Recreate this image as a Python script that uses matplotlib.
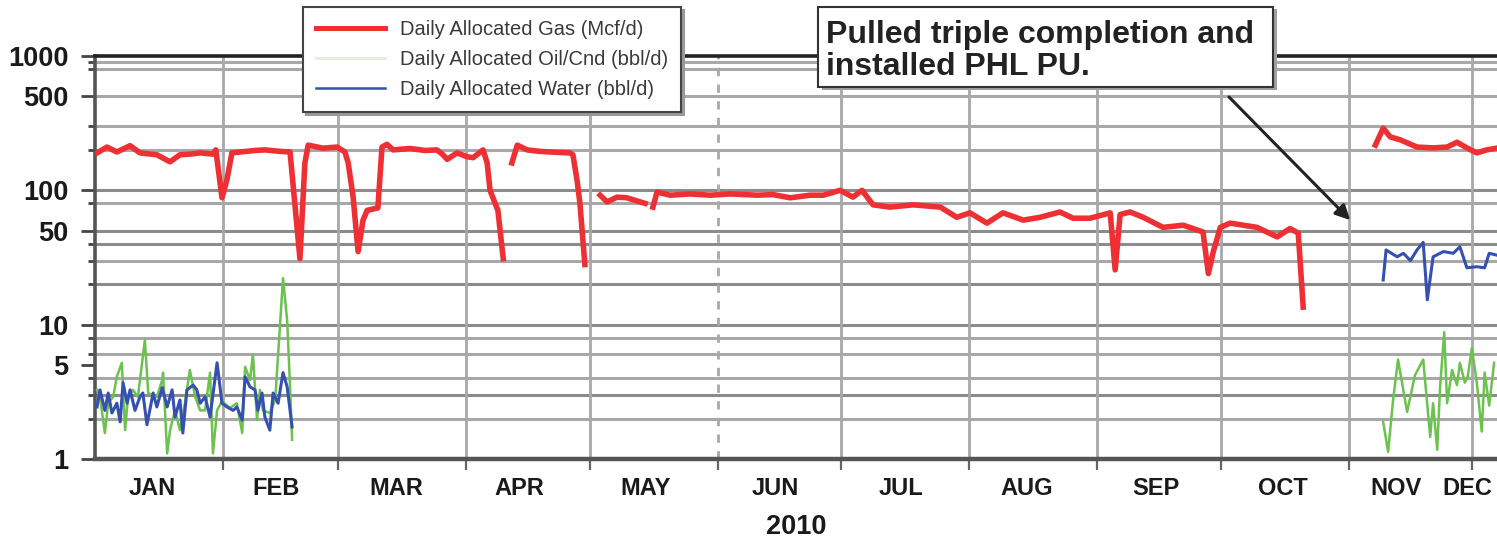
import numpy as np
import matplotlib
matplotlib.use('Agg')
import matplotlib.pyplot as plt
from matplotlib.patches import Rectangle
from matplotlib.ticker import FixedLocator, FixedFormatter, NullFormatter

# ---------------- data (day of year 2010, value) ----------------
gas_days = [0.5, 2.9, 5.3, 8.5, 10.9, 15, 18.2, 20.6, 23, 25.5, 28.6, 29.3, 30.8, 32, 33.2,
            35.2, 38.8, 41.2, 44.9, 47.3, 49.7, 50.9, 51.7, 55.3, 58.7, 60.6, 61.4, 62.6, 63.8,
            65, 66, 68.6, 69.6, 70.8, 72.3, 76.4, 80, 82.9, 84.4, 85.4, 87.8, 90.2, 91.7, 94.1,
            95.1, 95.8, 97.7, 99, None,
            101.1, 102.4, 104.8, 107.9, 111.6, 115.2, 115.9, 116.9, 117.6, 118.8, None,
            122.5, 124.2, 126.6, 129, 132.2, 133.4, None,
            135.3, 136.3, 139.5, 144.3, 149.2, 154, 160.6, 164.4, 168.6, 173.4, 176.6, 180.7,
            183.8, 186, 188.7, 192.8, 198.4, 205, 209, 212.2, 216.3, 220.2, 225.1, 229.2, 234,
            237.2, 241.3, 246.2, 247.4, 248.6, 251, 254.2, 259, 263.9, 268.7, 270, 271.2, 272.9,
            275.3, 281.8, 286.7, 289.8, 291.8, 293, None,
            310.5, 312.4, 314.1, 316.5, 320.6, 324.5, 327.9, 330.3, 332.7, 335.1, 337.5, 339.5]
gas_vals = [190, 210, 193, 215, 190, 184, 163, 184, 186, 190, 186, 200, 88, 120, 190,
            193, 198, 200, 195, 193, 31, 160, 217, 206, 210, 193, 160, 89, 35,
            60, 71, 74, 210, 220, 200, 205, 198, 200, 184, 170, 190, 178, 175, 200,
            160, 100, 71, 31, None,
            160, 217, 200, 195, 192, 190, 184, 119, 80, 28, None,
            92, 82, 89, 88, 82, 80, None,
            75, 97, 92, 94, 92, 94, 92, 93, 88, 92, 92, 100,
            89, 100, 78, 75, 78, 75, 63, 68, 57, 68, 60, 63, 69,
            62, 62, 68, 25.6, 66, 69, 63, 53, 55, 49, 24, 35, 53,
            57, 53, 45, 52, 48, 13.5, None,
            217, 290, 250, 238, 210, 207, 210, 228, 207, 190, 200, 205]

oil_days = [0.5, 1.2, 2.4, 3.2, 4.4, 5.3, 6.5, 7.3, 8, 9.2, 10.4, 12.1, 12.9, 15, 16.3, 16.5,
            17.5, 18.2, 19.4, 20.6, 21.8, 23, 24.3, 25.5, 26.7, 27.9, 28.6, 29.6, 30.8, 32.7,
            34.4, 35.7, 36.4, 37.6, 38.3, 39.3, 40, 40.7, 42.4, 43.7, 45.6, 46.6, 47.3, 47.8, None,
            312.4, 313.6, 314.8, 316, 318.2, 320.1, 322.1, 323.8, 324.5, 325.5, 326.2, 327.2,
            327.9, 329.1, 330.3, 331, 332.2, 332.9, 333.9, 335.1, 336.3, 337, 338.1, 339.3]
oil_vals = [3.27, 2.9, 1.56, 2.6, 2.9, 4.1, 5.2, 1.64, 2.9, 3.27, 2.9, 7.7, 3.1, 2.9, 3.87, 4.4,
            1.1, 1.64, 2.3, 1.64, 2.6, 4.6, 2.9, 2.3, 2.3, 4.4, 1.1, 2.3, 2.7, 2.4,
            2.6, 1.56, 4.85, 3.87, 6.0, 1.95, 3.27, 2.3, 2.2, 2.75, 22.2, 10.8, 3.44, 1.39, None,
            1.88, 1.13, 2.75, 5.5, 2.24, 4.2, 5.5, 1.46, 2.6, 1.17, 3.44, 8.8,
            2.6, 4.6, 3.55, 5.2, 3.7, 4.1, 6.7, 3.7, 1.6, 4.4, 2.5, 5.2]

water_days = [0.5, 1.2, 2.4, 3.2, 4.1, 5.3, 6.1, 6.8, 7.8, 8.5, 9.7, 10.9, 11.6, 12.6, 14.1, 15,
              16.3, 17.5, 18.7, 19.4, 20.6, 21.3, 22.3, 23.8, 24.7, 25.5, 26.7, 27.9, 29.6, 30.8,
              32, 33.5, 34.4, 35.7, 36.4, 37.6, 38.8, 39.5, 40.5, 41.2, 42.4, 43.2, 44.4, 45.6,
              46.6, 47.8, None,
              312.4, 313.1, 315.8, 317.3, 319, 320.6, 322.1, 323.1, 324.5, 327, 329.4, 331,
              332.7, 335.1, 337, 338.1, 339.8]
water_vals = [2.44, 3.27, 2.3, 3.1, 2.2, 2.6, 1.89, 3.7, 2.6, 3.27, 2.3, 2.9, 3.1, 1.8, 3.1, 2.44,
              3.4, 2.44, 3.27, 2.05, 2.75, 1.56, 3.27, 3.55, 3.27, 2.6, 2.9, 2.05, 5.2, 2.6,
              2.44, 2.3, 2.44, 1.95, 4.1, 3.44, 3.27, 2.3, 3.1, 2.05, 1.64, 3.1, 2.6, 4.4,
              3.44, 1.73, None,
              21.5, 36, 32, 34, 30, 36, 41, 15.3, 32, 35, 34, 38,
              26.5, 27, 26.5, 34, 33]

month_labels = ['JAN', 'FEB', 'MAR', 'APR', 'MAY', 'JUN', 'JUL', 'AUG', 'SEP', 'OCT', 'NOV', 'DEC']
month_label_days = [13.8, 44, 73, 103, 133.6, 165, 195.5, 226, 257.3, 288, 315.5, 332.8]
month_start_days = [31, 59, 90, 120, 151, 181, 212, 243, 273, 304, 334]
y_tick_vals = [1, 5, 10, 50, 100, 500, 1000]
y_grid_vals = [2, 3, 4, 6, 8, 10, 20, 30, 40, 50, 80, 100, 200, 300, 500, 800, 900]

series_labels = ['Daily Allocated Gas (Mcf/d)', 'Daily Allocated Oil/Cnd (bbl/d)',
                 'Daily Allocated Water (bbl/d)']
note_text = 'Pulled triple completion and\ninstalled PHL PU.'
x_title = '2010'


def arr(v):
    return np.array([np.nan if a is None else a for a in v], dtype=float)


# ---------------- figure ----------------
W, H = 1497, 541
plt.rcParams['font.family'] = ['Liberation Sans', 'DejaVu Sans']
fig = plt.figure(figsize=(W / 100, H / 100), dpi=100)
fig.patch.set_facecolor('white')
ax = fig.add_axes([95 / W, (H - 459) / H, 1402 / W, (459 - 56) / H])
ax.set_yscale('log')
ax.set_xlim(0, 340)
ax.set_ylim(1, 1000)

# grid
for v in y_grid_vals:
    c = '#8c8c8c' if v in (10, 50, 100, 40, 20, 3) else '#a8a8a8'
    ax.axhline(v, color=c, lw=2.2, zorder=1)
for i, d in enumerate(month_start_days):
    ls = (0, (3, 3)) if d == 151 else '-'
    ax.axvline(d, color='#a8a8a8', lw=2.0, ls=ls, zorder=1)

# series
ax.plot(arr(gas_days), arr(gas_vals), color='#ee2f33', lw=4.0, label=series_labels[0], zorder=4)
ax.plot(arr(oil_days), arr(oil_vals), color='#6cc24f', lw=1.8, label=series_labels[1], zorder=3)
ax.plot(arr(water_days), arr(water_vals), color='#3550b0', lw=2.2, label=series_labels[2], zorder=3)

# spines
ax.spines['right'].set_visible(False)
ax.spines['top'].set_color('#222222')
ax.spines['top'].set_linewidth(2.6)
ax.spines['left'].set_color('#555555')
ax.spines['left'].set_linewidth(2.6)
ax.spines['bottom'].set_color('#555555')
ax.spines['bottom'].set_linewidth(3.2)

# y ticks
ax.yaxis.set_major_locator(FixedLocator(y_tick_vals))
ax.yaxis.set_major_formatter(FixedFormatter([str(v) for v in y_tick_vals]))
ax.yaxis.set_minor_locator(FixedLocator([v for v in y_grid_vals if v not in y_tick_vals]))
ax.yaxis.set_minor_formatter(NullFormatter())
ax.tick_params(axis='y', which='major', length=10, width=2, color='#444444', labelsize=19.5,
               labelcolor='#1a1a1a', pad=9)
ax.tick_params(axis='y', which='minor', length=5, width=2, color='#444444')
for t in ax.get_yticklabels():
    t.set_fontweight('bold')

# x ticks
ax.xaxis.set_major_locator(FixedLocator(month_start_days))
ax.xaxis.set_major_formatter(NullFormatter())
ax.xaxis.set_minor_locator(FixedLocator(month_label_days))
ax.xaxis.set_minor_formatter(FixedFormatter(month_labels))
ax.tick_params(axis='x', which='major', length=8, width=1.6, color='#666666')
ax.tick_params(axis='x', which='minor', length=0, labelsize=17, labelcolor='#1a1a1a', pad=13)
for t in ax.get_xticklabels(minor=True):
    t.set_fontweight('bold')
ax.set_xlabel(x_title, fontsize=19.5, fontweight='bold', color='#1a1a1a', labelpad=10)

# legend
leg = ax.legend(loc='upper left', bbox_to_anchor=(303 / W, 1 - 7 / H),
                bbox_transform=fig.transFigure, borderaxespad=0, fontsize=14.5,
                frameon=True, fancybox=False, shadow={'color': '#9a9a9a', 'alpha': 1.0},
                edgecolor='#444444', handlelength=3.4, handletextpad=0.75,
                labelspacing=0.55, borderpad=0.65, labelcolor='#3a3a3a')
leg.get_frame().set_linewidth(1.5)
leg.set_zorder(10)
lines = leg.get_lines()
lines[0].set_linewidth(3.6)
lines[1].set_color('#dff0dc')
lines[1].set_linewidth(2.2)
lines[2].set_linewidth(1.8)

# annotation box
fig.add_artist(Rectangle((822 / W, (H - 90) / H), 455 / W, 81 / H, transform=fig.transFigure,
                         facecolor='#a0a0a0', edgecolor='none', zorder=9))
fig.add_artist(Rectangle((818 / W, (H - 87) / H), 455 / W, 80 / H, transform=fig.transFigure,
                         facecolor='white', edgecolor='#333333', lw=1.5, zorder=10))
fig.text(826 / W, 1 - 51 / H, note_text, fontsize=23, fontweight='bold', color='#222222',
         ha='left', va='center', linespacing=1.12, zorder=11)
ax.annotate('', xy=(304.4, 60), xycoords='data',
            xytext=(1229 / W, 1 - 97 / H), textcoords='figure fraction',
            arrowprops=dict(arrowstyle='-|>', color='#222222', lw=2.2, mutation_scale=22,
                            shrinkA=0, shrinkB=0), zorder=11)

fig.savefig('out.png', dpi=100)
